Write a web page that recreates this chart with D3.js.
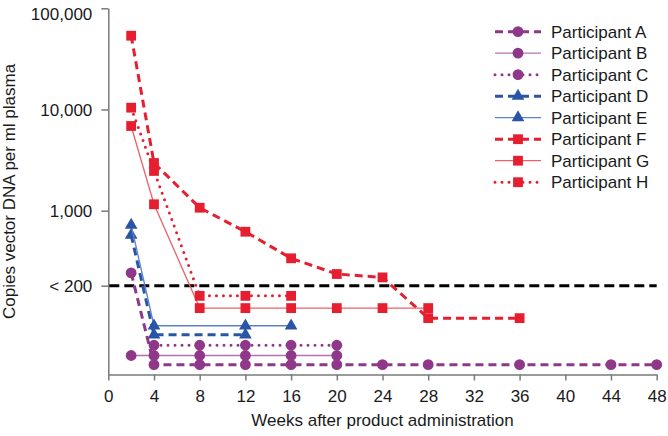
<!DOCTYPE html>
<html>
<head>
<meta charset="utf-8">
<script src="https://cdn.jsdelivr.net/npm/d3@7"></script>
<style>
  html, body { margin: 0; padding: 0; background: #fff; }
  svg { display: block; font-family: "Liberation Sans", Arial, Helvetica, sans-serif; }
</style>
</head>
<body>
<svg id="chart" width="668" height="436"></svg>
<script>
// ---------- DATA ----------
const xTicks = [0, 4, 8, 12, 16, 20, 24, 28, 32, 36, 40, 44, 48];
const yTickValues = [200, 1000, 10000, 100000];
const yTickLabels = ["< 200", "1,000", "10,000", "100,000"];
const threshold = 200;

const participants = ["Participant A", "Participant B", "Participant C", "Participant D",
                      "Participant E", "Participant F", "Participant G", "Participant H"];

const weeksA = [2, 4, 8, 12, 16, 20, 24, 28, 36, 44, 48];
const valuesA = [263, 37, 37, 37, 37, 37, 37, 37, 37, 37, 37];
const weeksB = [2, 4, 8, 12, 16, 20];
const valuesB = [45, 45, 45, 45, 45, 45];
const weeksC = [4, 8, 12, 16, 20];
const valuesC = [56, 56, 56, 56, 56];
const weeksD = [2, 4, 12];
const valuesD = [594, 70, 70];
const weeksE = [2, 4, 12, 16];
const valuesE = [736, 85, 85, 85];
const weeksF = [2, 4, 8, 12, 16, 20, 24, 28, 36];
const valuesF = [53600, 2960, 1070, 637, 360, 257, 239, 100, 100];
const weeksG = [2, 4, 8, 12, 16, 20, 24, 28];
const valuesG = [6870, 1157, 124, 124, 124, 124, 124, 124];
const weeksH = [2, 4, 8, 12, 16];
const valuesH = [10420, 2470, 161, 161, 161];

// ---------- STYLE ----------
const PURPLE = "#8f3889", PURPLE_L = "#b572ae";
const BLUE = "#2a55a6", BLUE_L = "#5c82c9";
const RED = "#e51f30", RED_L = "#ef5f69";

const seriesStyle = [
  { marker: d3.symbolCircle, fill: PURPLE, stroke: PURPLE, dash: "8,5", width: 3 },
  { marker: d3.symbolCircle, fill: PURPLE, stroke: PURPLE_L, dash: null, width: 1.3 },
  { marker: d3.symbolCircle, fill: PURPLE, stroke: PURPLE, dash: "0,7", width: 3, round: true },
  { marker: d3.symbolTriangle, fill: BLUE, stroke: BLUE, dash: "8,5", width: 3 },
  { marker: d3.symbolTriangle, fill: BLUE, stroke: BLUE_L, dash: null, width: 1.3 },
  { marker: d3.symbolSquare, fill: RED, stroke: RED, dash: "8,5", width: 3 },
  { marker: d3.symbolSquare, fill: RED, stroke: RED_L, dash: null, width: 1.3 },
  { marker: d3.symbolSquare, fill: RED, stroke: RED, dash: "0,7", width: 3, round: true }
];
const markerSize = { circle: 92, triangle: 70, square: 96 };

const series = [
  [weeksA, valuesA], [weeksB, valuesB], [weeksC, valuesC], [weeksD, valuesD],
  [weeksE, valuesE], [weeksF, valuesF], [weeksG, valuesG], [weeksH, valuesH]
].map(([w, v], i) => ({
  name: participants[i],
  style: seriesStyle[i],
  points: w.map((wk, j) => ({ week: wk, value: v[j] }))
}));

// ---------- LAYOUT ----------
const plotLeft = 108.3, plotRight = 656.7, plotTop = 8.3, plotBottom = 374.5;
const svg = d3.select("#chart");

const x = d3.scaleLinear().domain([0, 48]).range([plotLeft, plotRight]);
// piecewise log scale (below-threshold region compressed as in the original)
const y = d3.scaleLog().domain([30, 200, 1000, 100000]).range([plotBottom, 285.7, 210.7, plotTop]);

const AXIS = "#7a7a7a";
const FS = 17;

// X axis
const gx = svg.append("g").attr("transform", `translate(0,${plotBottom})`)
  .call(d3.axisBottom(x).tickValues(xTicks).tickSize(6).tickSizeOuter(0).tickPadding(9));
gx.select(".domain").attr("stroke", AXIS).attr("stroke-width", 1.5);
gx.selectAll(".tick line").attr("stroke", AXIS).attr("stroke-width", 1.5);
gx.selectAll(".tick text").attr("font-size", FS).attr("fill", "#1a1a1a");
gx.attr("font-family", null).attr("font-size", null);

// Y axis
const gy = svg.append("g").attr("transform", `translate(${plotLeft},0)`)
  .call(d3.axisLeft(y).tickValues(yTickValues).tickSize(7).tickSizeOuter(0).tickPadding(9)
    .tickFormat((d, i) => yTickLabels[i]));
gy.select(".domain").attr("stroke", AXIS).attr("stroke-width", 1.5);
gy.selectAll(".tick line").attr("stroke", AXIS).attr("stroke-width", 1.5);
gy.selectAll(".tick text").attr("font-size", FS).attr("fill", "#1a1a1a")
  .attr("dy", d => d === 100000 ? "0.68em" : "0.36em");  // top label kept inside the frame
gy.attr("font-family", null).attr("font-size", null);

// Axis titles
svg.append("text").attr("x", (plotLeft + plotRight) / 2).attr("y", 426)
  .attr("text-anchor", "middle").attr("font-size", FS).attr("fill", "#1a1a1a")
  .text("Weeks after product administration");
svg.append("text")
  .attr("transform", `translate(15,${(plotTop + plotBottom) / 2}) rotate(-90)`)
  .attr("text-anchor", "middle").attr("font-size", FS).attr("fill", "#1a1a1a")
  .text("Copies vector DNA per ml plasma");

// Threshold line
svg.append("line")
  .attr("x1", x(0) + 1).attr("x2", x(48))
  .attr("y1", y(threshold)).attr("y2", y(threshold))
  .attr("stroke", "#000").attr("stroke-width", 3).attr("stroke-dasharray", "10,5");

// Series
const line = d3.line().x(d => x(d.week)).y(d => y(d.value));
function sizeOf(sym) {
  return sym === d3.symbolCircle ? markerSize.circle :
         sym === d3.symbolTriangle ? markerSize.triangle : markerSize.square;
}
series.forEach(s => {
  const g = svg.append("g");
  g.append("path").datum(s.points).attr("d", line)
    .attr("fill", "none").attr("stroke", s.style.stroke)
    .attr("stroke-width", s.style.width)
    .attr("stroke-dasharray", s.style.dash)
    .attr("stroke-linecap", s.style.round ? "round" : "butt");
  g.selectAll("path.m").data(s.points).join("path").attr("class", "m")
    .attr("transform", d => `translate(${x(d.week)},${y(d.value)})`)
    .attr("d", d3.symbol().type(s.style.marker).size(sizeOf(s.style.marker)))
    .attr("fill", s.style.fill);
});

// Legend
const legX1 = 495, legX2 = 541, legMid = 518, legTextX = 551, legY0 = 31.7, legDy = 21.5;
const leg = svg.append("g");
series.forEach((s, i) => {
  const yy = legY0 + i * legDy;
  leg.append("line").attr("x1", legX1).attr("x2", legX2).attr("y1", yy).attr("y2", yy)
    .attr("stroke", s.style.stroke).attr("stroke-width", s.style.width)
    .attr("stroke-dasharray", s.style.dash)
    .attr("stroke-linecap", s.style.round ? "round" : "butt");
  leg.append("path").attr("transform", `translate(${legMid},${yy})`)
    .attr("d", d3.symbol().type(s.style.marker).size(sizeOf(s.style.marker)))
    .attr("fill", s.style.fill);
  leg.append("text").attr("x", legTextX).attr("y", yy).attr("dy", "0.35em")
    .attr("font-size", FS).attr("fill", "#1a1a1a").text(s.name);
});
</script>
</body>
</html>
